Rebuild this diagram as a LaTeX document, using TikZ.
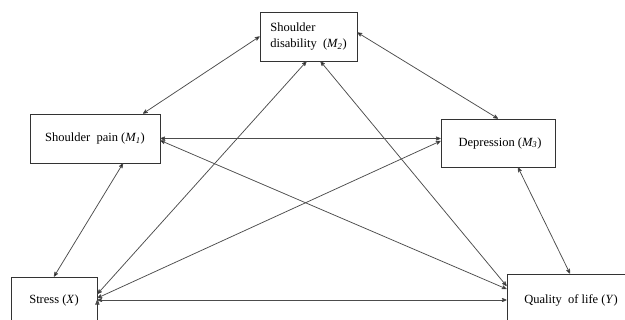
\documentclass[tikz,border=0pt]{standalone}
\usepackage{fontspec}
\setmainfont{Liberation Serif}
\usetikzlibrary{arrows}

\begin{document}
\begin{tikzpicture}[x=1pt,y=-1pt,>=stealth',
                var node/.style={rectangle,draw=black!80,line width=0.8pt,inner sep=0pt,
                  font=\fontsize{12.5}{16}\selectfont},
                path edge/.style={<->,draw=black!70,line width=0.75pt}]
                \useasboundingbox (0,0) rectangle (625,320);
                \node[var node,minimum width=86pt,minimum height=46pt] (x) at (54,300) {Stress (\textit{X})};
                \node[var node,minimum width=130pt,minimum height=49pt] (m1) at (95,138.5) {Shoulder\ \ pain (\textit{M\textsubscript{1}})};
                \node[var node,minimum width=97pt,minimum height=49pt,align=left] (m2) at (308.5,36.5) {Shoulder\\disability\ \ (\textit{M\textsubscript{2}})};
                \node[var node,minimum width=114pt,minimum height=48pt] (m3) at (498,143) {\hspace{4pt}Depression (\textit{M\textsubscript{3}})};
                \node[var node,minimum width=128pt,minimum height=52pt] (y) at (571,300) {Quality\ \ of life\ (\textit{Y})};

                \path[path edge]
                ([xshift=48pt]m1.north) edge (m2.west)
                ([yshift=4pt]m2.east) edge (m3.north)
                (m1.east) edge (m1.east -| m3.west)
                ([xshift=28pt]m1.south) edge (x.north)
                ([xshift=20pt]m3.south) edge ([xshift=-1pt]y.north)
                ([yshift=6pt]x.east) edge ([xshift=-2pt]m2.south)
                ([xshift=12pt]m2.south) edge ([yshift=14pt]y.west)
                ([yshift=-2pt]m1.east) edge ([yshift=11pt]y.west)
                ([yshift=2pt]x.east) edge ([yshift=2pt]m3.west)
                (x.east) edge (y.west)
                ;
\end{tikzpicture}
\end{document}
